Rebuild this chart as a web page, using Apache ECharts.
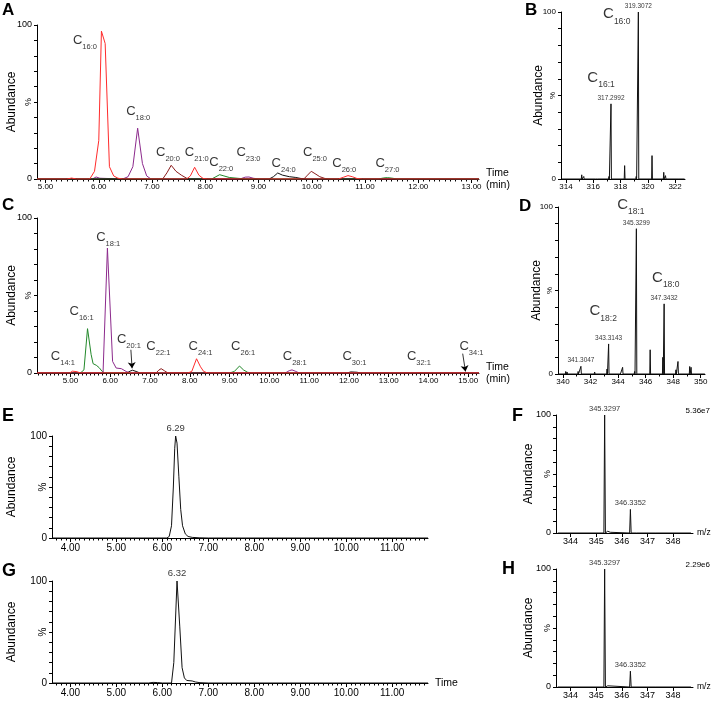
<!DOCTYPE html>
<html>
<head>
<meta charset="utf-8">
<script src="https://cdn.jsdelivr.net/npm/echarts@6/dist/echarts.min.js"></script>
<style>html,body{margin:0;background:#fff}#chart{width:715px;height:702px}</style>
</head>
<body>
<div id="chart"></div>
<script>
// ---------- data ----------
// A: saturated FA chromatograms (time, % abundance), one trace per colour
const aPurple = [[4.84,0],[5.88,0],[5.95,1.3],[6.02,0.5],[6.45,0],[6.55,1.5],[6.64,8],[6.73,33],[6.82,10],[6.9,2],[6.98,0],[8.65,0],[8.75,1.2],[8.82,1.3],[8.9,0.5],[9.0,0],[13.14,0]];
const aBrown = [[4.84,0],[7.2,0],[7.28,4],[7.36,8.9],[7.45,5],[7.55,2.5],[7.65,0.5],[7.72,0],[9.85,0],[9.92,2.5],[9.99,5],[10.06,3.5],[10.15,1.5],[10.25,0.3],[10.35,0],[13.14,0]];
const aGreen = [[4.84,0],[8.12,0],[8.2,1.5],[8.27,2.8],[8.35,2],[8.45,1],[8.6,0.5],[8.75,0],[11.25,0],[11.35,0.7],[11.42,0.9],[11.5,0.6],[11.6,0],[13.14,0]];
const aBlack = [[4.84,0],[9.2,0],[9.28,1.5],[9.36,3.9],[9.45,2.5],[9.58,1.5],[9.7,1],[9.8,0.3],[9.9,0],[13.14,0]];
const aRed = [[4.84,0],[5.4,0],[5.49,0.6],[5.58,0],[5.83,0],[5.92,5],[6.0,25],[6.05,96],[6.12,88],[6.2,8],[6.28,2],[6.36,0.5],[6.45,0],[7.65,0],[7.72,2],[7.8,7.6],[7.88,2.5],[7.96,0.3],[8.05,0],[10.5,0],[10.6,1.2],[10.68,2.2],[10.76,1.5],[10.85,0.3],[10.95,0],[13.14,0]];
const aLabels = [['16:0',5.74,89],['18:0',6.74,42.8],['20:0',7.3,16.2],['21:0',7.84,16.2],['22:0',8.3,9.7],['23:0',8.81,16.2],['24:0',9.47,8.9],['25:0',10.06,16.2],['26:0',10.61,8.9],['27:0',11.42,8.9]];
const aTicks = [5,6,7,8,9,10,11,12,13];

// B: mass spectrum (m/z, %)
const bMz = [314.25,315.15,315.3,316.2,316.35,317.15,317.2992,318.3,319.15,319.3072,320.31,321.17,321.3,322.25];
const bInt = [1,2.5,1.5,1,0.8,1.5,45,8,1.5,100,14,4,2,1];
const bMassLabels = [317.2992,319.3072];
const bLabels = [['16:0',317.72,97.4],['16:1',316.57,59.2]];
const bTicks = [314,316,318,320,322];

// C: monounsaturated FA chromatograms
const cGreen = [[4.16,0],[5.25,0],[5.34,2],[5.43,28.6],[5.52,12],[5.57,6],[5.65,5],[5.72,3.5],[5.8,1],[5.86,0],[9.0,0],[9.12,1],[9.25,4.5],[9.35,2],[9.45,0.5],[9.55,0],[15.27,0]];
const cPurple = [[4.16,0],[5.82,0],[5.93,80.6],[6.06,7.5],[6.15,3.2],[6.28,2.8],[6.4,1],[6.5,0],[10.4,0],[10.5,1.5],[10.57,2],[10.65,1.2],[10.75,0],[15.27,0]];
const cBlack = [[4.16,0],[6.42,0],[6.5,1.2],[6.56,1.8],[6.65,1],[6.75,0],[11.95,0],[12.05,0.7],[12.1,0.9],[12.2,0.5],[12.3,0],[15.27,0]];
const cBrown = [[4.16,0],[7.15,0],[7.22,1.8],[7.28,2.8],[7.36,1.5],[7.45,0],[7.85,0],[7.9,0.4],[7.97,0],[13.7,0],[13.78,0.3],[13.86,0],[15.27,0]];
const cRed = [[4.16,0],[4.98,0],[5.05,1.2],[5.1,1.5],[5.17,0.8],[5.25,0],[7.95,0],[8.05,1],[8.17,9.2],[8.27,4],[8.35,1],[8.45,0],[15.27,0]];
const cLabels = [['14:1',4.81,9.7],['16:1',5.28,38.3],['18:1',5.95,86.2],['20:1',6.47,20.4],['22:1',7.21,16.1],['24:1',8.27,16.1],['26:1',9.34,16.1],['28:1',10.64,9.5],['30:1',12.14,9.5],['32:1',13.76,9.5],['34:1',15.08,16.1]];
const cArrows = [[[6.52,15],[6.55,3]],[[14.86,12.5],[14.93,1]]];
const cTicks = [5,6,7,8,9,10,11,12,13,14,15];

// D: mass spectrum
const dMz = [340.2,340.3,341.1,341.3047,342.3,343.2,343.3143,344.2,344.33,345.2,345.3299,346.33,347.25,347.3432,348.2,348.35,349.2,349.3];
const dInt = [1.5,1.2,1.5,4.6,1.2,3,18,1,4,1.5,87,14.5,10,42,2.5,7.5,4.5,4];
const dMassLabels = [341.3047,343.3143,345.3299,347.3432];
const dLabels = [['18:1',344.93,100],['18:0',347.46,56.3],['18:2',342.92,36.4]];
const dTicks = [340,342,344,346,348,350];

// E / G: single-ion chromatograms
const eTrace = [[3.6,0],[6.1,0],[6.15,1.5],[6.2,12],[6.24,50],[6.27,88],[6.29,100],[6.32,93],[6.36,60],[6.4,28],[6.44,12],[6.5,4],[6.56,1.5],[6.65,0.6],[6.8,0.2],[7.0,0],[11.78,0]];
const gTrace = [[3.6,0],[5.7,0],[5.8,0.6],[5.9,0.4],[6.0,0],[6.2,0],[6.25,20],[6.32,100],[6.38,55],[6.43,15],[6.48,5],[6.53,2.5],[6.65,2],[6.72,1],[6.82,0.3],[7.0,0],[11.78,0]];
const eApex = [6.29,100];
const gApex = [6.32,100];
const egTicks = [4,5,6,7,8,9,10,11];

// F / H: mass spectra
const fMz = [345.3297,345.45,345.55,346.3352,346.6,347.33];
const fInt = [100,1.5,0.6,20,0.4,0.8];
const hMz = [345.3297,345.45,346.3352,347.33];
const hInt = [100,1,13.4,0.6];
const fhMassLabels = [345.3297,346.3352];
const fhTicks = [344,345,346,347,348];

// ---------- helpers ----------
const FONT = 'Liberation Sans, Arial, Helvetica, sans-serif';
const RED = '#ff2b2b', PURPLE = '#8c2a8c', BROWN = '#8b1c1c', GREEN = '#22882a', BLACK = '#111';

function steps(lo, hi, step) {
  const out = [];
  for (let v = lo; v <= hi + 1e-9; v += step) out.push(+v.toFixed(3));
  return out;
}

function profile(mz, h, lo, hi) {
  const pts = [[lo, 0], [hi, 0]];
  mz.forEach((m, i) => pts.push([m - 0.03, 0], [m, h[i]], [m + 0.03, 0]));
  return pts.sort((a, b) => a[0] - b[0]);
}

const grids = [
  {left: 37, top: 25, width: 442, height: 154},   // A
  {left: 561, top: 12, width: 124, height: 167},  // B
  {left: 37, top: 218, width: 442, height: 155},  // C
  {left: 558, top: 207, width: 147, height: 167}, // D
  {left: 52, top: 436, width: 376, height: 102},  // E
  {left: 556, top: 415, width: 137, height: 118}, // F
  {left: 52, top: 581, width: 376, height: 102},  // G
  {left: 556, top: 569, width: 137, height: 118}  // H
];

function xAxisPair(g, o) {
  const base = {gridIndex: g, type: 'value', min: o.min, max: o.max, position: 'bottom', splitLine: {show: false}};
  return [
    Object.assign({}, base, {
      name: o.name || '', nameLocation: 'end', nameGap: o.nameGap || 7, nameMoveOverlap: false,
      nameTextStyle: {fontFamily: FONT, fontSize: o.nameSize || 10.5, color: '#000', align: 'left', lineHeight: 12, padding: o.namePad || 0},
      axisLine: {show: true, onZero: false, lineStyle: {color: '#000', width: 1}},
      axisTick: {show: true, customValues: o.labels, length: 4, lineStyle: {color: '#000'}},
      axisLabel: {customValues: o.labels, formatter: v => v.toFixed(o.digits), fontFamily: FONT, fontSize: o.fs, color: '#000', margin: o.margin || 4}
    }),
    Object.assign({}, base, {
      axisLine: {show: false}, axisLabel: {show: false},
      axisTick: {show: o.minor.length > 0, customValues: o.minor, length: 2.5, lineStyle: {color: '#000'}}
    })
  ];
}

function yAxis(g, fs, gap) {
  return {
    gridIndex: g, type: 'value', min: 0, max: 100, interval: 10,
    name: 'Abundance', nameLocation: 'middle', nameGap: gap, nameMoveOverlap: false,
    nameTextStyle: {fontFamily: FONT, fontSize: 12, color: '#000'},
    axisLine: {show: true, lineStyle: {color: '#000', width: 1}},
    axisTick: {show: true, length: 3, lineStyle: {color: '#000'}},
    splitLine: {show: false},
    axisLabel: {fontFamily: FONT, fontSize: fs, color: '#000', margin: 5,
      formatter: v => v === 100 ? '100' : v === 0 ? '0' : ''}
  };
}

function trace(g, data, color) {
  return {type: 'line', xAxisIndex: 2 * g, yAxisIndex: g, data: data, showSymbol: false, symbol: 'none',
    lineStyle: {color: color, width: 1}, itemStyle: {color: color}, silent: true};
}

function richFor(big) {
  return {
    c: {fontFamily: FONT, fontSize: big ? 15 : 13, color: '#000', padding: [0, 0, 4, 0]},
    s: {fontFamily: FONT, fontSize: big ? 8.5 : 7.5, color: '#000', verticalAlign: 'bottom'}
  };
}

function nameSeries(g, arr, big) {
  return {type: 'scatter', xAxisIndex: 2 * g, yAxisIndex: g, symbolSize: 1, clip: false, silent: true, z: 5,
    itemStyle: {color: 'transparent'},
    data: arr.map(a => ({value: [a[1], a[2]], name: a[0]})),
    label: {show: true, position: 'inside', formatter: p => '{c|C}{s|' + p.name + '}', rich: richFor(big)}};
}

function valueLabels(g, pts, digits, fs) {
  return {type: 'scatter', xAxisIndex: 2 * g, yAxisIndex: g, symbolSize: 1, clip: false, silent: true, z: 5,
    itemStyle: {color: 'transparent'}, data: pts,
    label: {show: true, position: 'top', distance: 2, fontFamily: FONT, fontSize: fs, color: '#000',
      formatter: p => p.value[0].toFixed(digits)}};
}

function massPoints(mz, h, list) {
  return list.map(m => [m, h[mz.indexOf(m)]]);
}

// ---------- chart ----------
const chart = echarts.init(document.getElementById('chart'));

const xAxes = [].concat(
  xAxisPair(0, {min: 4.84, max: 13.14, labels: aTicks, minor: steps(4.9, 13.1, 0.1), digits: 2, fs: 8, name: 'Time\n(min)', namePad: [5, 0, 0, 0]}),
  xAxisPair(1, {min: 313.63, max: 322.73, labels: bTicks, minor: steps(314, 322, 1), digits: 0, fs: 8}),
  xAxisPair(2, {min: 4.16, max: 15.27, labels: cTicks, minor: steps(4.2, 15.2, 0.1), digits: 2, fs: 8, name: 'Time\n(min)'}),
  xAxisPair(3, {min: 339.64, max: 350.31, labels: dTicks, minor: steps(340, 350, 1), digits: 0, fs: 8}),
  xAxisPair(4, {min: 3.6, max: 11.78, labels: egTicks, minor: steps(3.7, 11.7, 0.1), digits: 2, fs: 10, margin: 5}),
  xAxisPair(5, {min: 343.43, max: 348.78, labels: fhTicks, minor: [], digits: 0, fs: 9, name: 'm/z', nameGap: 4, nameSize: 8.5}),
  xAxisPair(6, {min: 3.6, max: 11.78, labels: egTicks, minor: steps(3.7, 11.7, 0.1), digits: 2, fs: 10, margin: 5, name: 'Time', nameGap: 7}),
  xAxisPair(7, {min: 343.43, max: 348.78, labels: fhTicks, minor: [], digits: 0, fs: 9, name: 'm/z', nameGap: 4, nameSize: 8.5})
);

const yLabelSize = [9, 8, 9, 8, 10, 9, 10, 9];
const yAxes = [yAxis(0, 9, 19), yAxis(1, 8, 16), yAxis(2, 9, 19), yAxis(3, 8, 15),
  yAxis(4, 10, 34), yAxis(5, 9, 21), yAxis(6, 10, 34), yAxis(7, 9, 21)];

const cNames = nameSeries(2, cLabels, false);
cNames.markLine = {silent: true, symbol: ['none', 'arrow'], symbolSize: 6, label: {show: false},
  lineStyle: {color: '#000', width: 0.8, type: 'solid'},
  data: cArrows.map(a => [{coord: a[0]}, {coord: a[1]}])};

const series = [
  trace(0, aPurple, PURPLE), trace(0, aBrown, BROWN), trace(0, aGreen, GREEN), trace(0, aBlack, BLACK), trace(0, aRed, RED),
  nameSeries(0, aLabels, false),
  trace(1, profile(bMz, bInt, 313.7, 322.7), BLACK),
  nameSeries(1, bLabels, true),
  valueLabels(1, massPoints(bMz, bInt, bMassLabels), 4, 6.5),
  trace(2, cGreen, GREEN), trace(2, cPurple, PURPLE), trace(2, cBlack, BLACK), trace(2, cBrown, BROWN), trace(2, cRed, RED),
  cNames,
  trace(3, profile(dMz, dInt, 339.7, 350.3), BLACK),
  nameSeries(3, dLabels, true),
  valueLabels(3, massPoints(dMz, dInt, dMassLabels), 4, 6.5),
  trace(4, eTrace, BLACK),
  valueLabels(4, [eApex], 2, 9.5),
  trace(5, profile(fMz, fInt, 343.5, 348.7), BLACK),
  valueLabels(5, massPoints(fMz, fInt, fhMassLabels), 4, 7.5),
  trace(6, gTrace, BLACK),
  valueLabels(6, [gApex], 2, 9.5),
  trace(7, profile(hMz, hInt, 343.5, 348.7), BLACK),
  valueLabels(7, massPoints(hMz, hInt, fhMassLabels), 4, 7.5)
];

const letterStyle = (t, size) => ({text: t, fontFamily: FONT, fontWeight: 'bold', fontSize: size, fill: '#000', textVerticalAlign: 'top'});
const graphic = [
  ['A', 2, 2, 17], ['B', 525, 2, 17], ['C', 2, 197, 17], ['D', 519, 198, 17],
  ['E', 2, 407, 18], ['F', 512, 407, 18], ['G', 2, 562, 18], ['H', 502, 560, 18]
].map(l => ({type: 'text', left: l[1], top: l[2], style: letterStyle(l[0], l[3])}));
graphic.push(
  {type: 'text', right: 5, top: 407, style: {text: '5.36e7', fontFamily: FONT, fontSize: 8, fill: '#000'}},
  {type: 'text', right: 5, top: 561, style: {text: '2.29e6', fontFamily: FONT, fontSize: 8, fill: '#000'}}
);

const option = {
  animation: false,
  backgroundColor: '#fff',
  grid: grids.map(g => Object.assign({outerBoundsMode: 'none', containLabel: false}, g)),
  xAxis: xAxes,
  yAxis: yAxes,
  series: series,
  graphic: graphic
};
chart.setOption(option);

// sideways "%" at the mid-point of each abundance axis
grids.forEach((g, i) => {
  const y = chart.convertToPixel({yAxisIndex: i}, 50);
  graphic.push({type: 'text', x: g.left - 6 - yLabelSize[i] * 0.3, y: y, rotation: Math.PI / 2,
    style: {text: '%', fontFamily: FONT, fontSize: yLabelSize[i], fill: '#000', align: 'center', verticalAlign: 'middle'}});
});
chart.setOption({graphic: graphic});
</script>
</body>
</html>
